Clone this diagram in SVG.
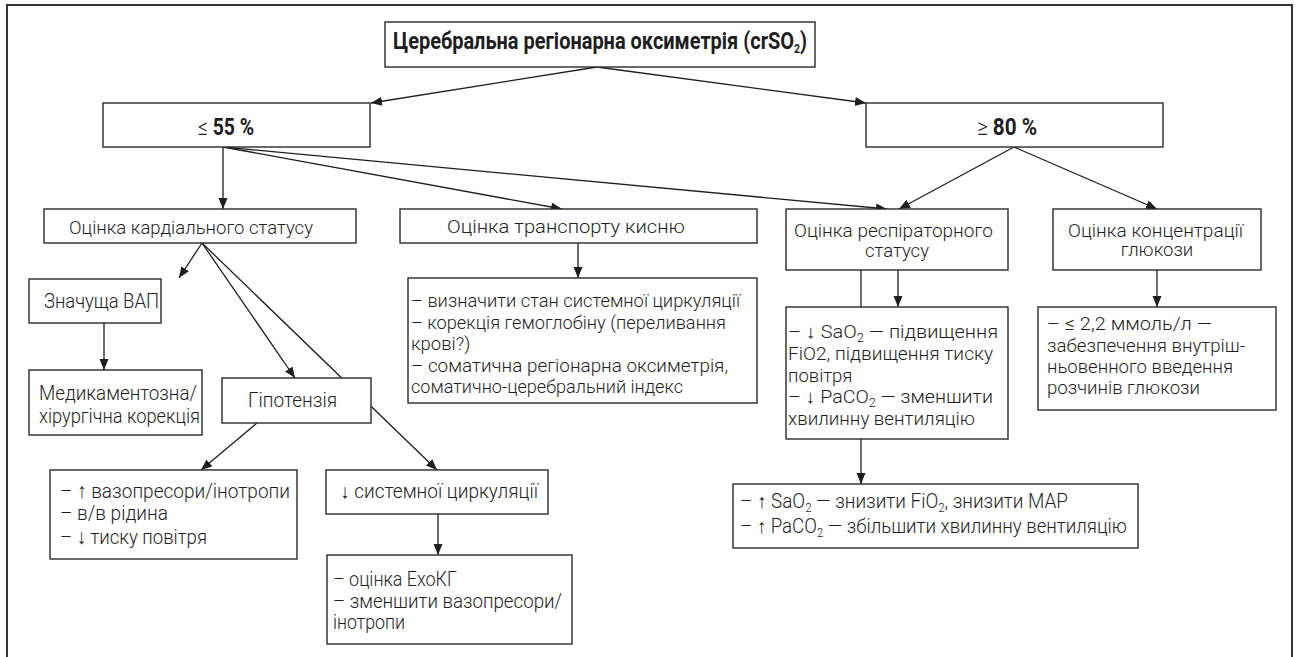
<svg xmlns="http://www.w3.org/2000/svg" width="1299" height="657" viewBox="0 0 1299 657">
<style>
.bx{fill:#fff;stroke:#2a2a2a;stroke-width:1.4}
.t{font-family:Roboto,"Liberation Sans",sans-serif;font-size:18.5px;font-weight:300;fill:#1e1e1e}
.c{text-anchor:middle}
.b{font-weight:bold}
.cn{font-size:23px}
.sub{font-size:12px}
.ln{stroke:#1e1e1e;stroke-width:1.3;fill:none}
.ar{stroke:#1e1e1e;stroke-width:1.3;fill:none;marker-end:url(#ah)}
</style>
<defs>
<marker id="ah" markerUnits="userSpaceOnUse" markerWidth="12" markerHeight="10" refX="11" refY="4.5" orient="auto">
<path d="M0,0 L11,4.5 L0,9 z" fill="#1e1e1e"/>
</marker>
</defs>
<rect width="1299" height="657" fill="#fff"/>
<path d="M7,660 V5 H1292 V660" fill="none" stroke="#333" stroke-width="2"/>

<g id="connectors">
<line class="ar" x1="597" y1="67" x2="371" y2="103"/>
<line class="ar" x1="597" y1="67" x2="866" y2="103"/>
<line class="ar" x1="223" y1="147" x2="223" y2="209"/>
<line class="ar" x1="223" y1="147" x2="562" y2="209"/>
<line class="ar" x1="223" y1="147" x2="887" y2="209"/>
<line class="ar" x1="1014" y1="147" x2="899" y2="209"/>
<line class="ar" x1="1014" y1="147" x2="1157" y2="209"/>
<line class="ar" x1="202" y1="243" x2="179" y2="278"/>
<line class="ar" x1="202" y1="243" x2="295" y2="378"/>
<line class="ar" x1="202" y1="243" x2="437" y2="470"/>
<line class="ar" x1="104" y1="323" x2="104" y2="370"/>
<line class="ar" x1="257" y1="423" x2="201" y2="470"/>
<line class="ar" x1="438" y1="514" x2="438" y2="555"/>
<line class="ar" x1="578" y1="243" x2="578" y2="278"/>
<line class="ar" x1="898" y1="270" x2="898" y2="307"/>
<line class="ar" x1="861" y1="270" x2="861" y2="484"/>
<line class="ar" x1="1157" y1="270" x2="1157" y2="307"/>
</g>

<g id="n_title">
<rect class="bx" x="385" y="22" width="430" height="45"/>
<text class="t b cn" x="393" y="49" textLength="414" lengthAdjust="spacingAndGlyphs">Церебральна регіонарна оксиметрія (crSO<tspan class="sub" baseline-shift="-4">2</tspan>)</text>
</g>
<g id="n_le55">
<rect class="bx" x="103" y="103" width="267" height="44"/>
<text class="t cn" x="198" y="135" textLength="56" lengthAdjust="spacingAndGlyphs">≤ <tspan class="b">55 %</tspan></text>
</g>
<g id="n_ge80">
<rect class="bx" x="866" y="103" width="297" height="44"/>
<text class="t cn" x="977" y="135" textLength="60" lengthAdjust="spacingAndGlyphs">≥ <tspan class="b">80 %</tspan></text>
</g>
<g id="n_card">
<rect class="bx" x="44" y="209" width="312" height="34"/>
<text class="t" x="69" y="234" textLength="244" lengthAdjust="spacingAndGlyphs">Оцінка кардіального статусу</text>
</g>
<g id="n_trans">
<rect class="bx" x="400" y="209" width="357" height="34"/>
<text class="t" x="447" y="233" textLength="238" lengthAdjust="spacingAndGlyphs">Оцінка транспорту кисню</text>
</g>
<g id="n_resp">
<rect class="bx" x="786" y="209" width="222" height="61"/>
<text class="t" x="794" y="237" textLength="199" lengthAdjust="spacingAndGlyphs">Оцінка респіраторного</text>
<text class="t c" x="897" y="257">статусу</text>
</g>
<g id="n_gluc">
<rect class="bx" x="1053" y="209" width="208" height="61"/>
<text class="t" x="1068" y="237" textLength="175" lengthAdjust="spacingAndGlyphs">Оцінка концентрації</text>
<text class="t c" x="1157" y="256">глюкози</text>
</g>
<g id="n_vap">
<rect class="bx" x="29" y="279" width="132" height="44"/>
<text class="t" x="44" y="308" textLength="115" lengthAdjust="spacingAndGlyphs" style="font-size:20px">Значуща ВАП</text>
</g>
<g id="n_med">
<rect class="bx" x="29" y="370" width="173" height="65"/>
<text class="t" x="39" y="400" textLength="158" lengthAdjust="spacingAndGlyphs" style="font-size:20px">Медикаментозна/</text>
<text class="t" x="39" y="423" textLength="161" lengthAdjust="spacingAndGlyphs" style="font-size:20px">хірургічна корекція</text>
</g>
<g id="n_hypo">
<rect class="bx" x="222" y="378" width="149" height="45"/>
<text class="t" x="248" y="407" textLength="89" lengthAdjust="spacingAndGlyphs" style="font-size:20px">Гіпотензія</text>
</g>
<g id="n_trans_c">
<rect class="bx" x="408" y="278" width="349" height="125"/>
<text class="t" x="411" y="307" textLength="329" lengthAdjust="spacingAndGlyphs">– визначити стан системної циркуляції</text>
<text class="t" x="411" y="328.5" textLength="315" lengthAdjust="spacingAndGlyphs">– корекція гемоглобіну (переливання</text>
<text class="t" x="411" y="350">крові?)</text>
<text class="t" x="411" y="371.5" textLength="317" lengthAdjust="spacingAndGlyphs">– соматична регіонарна оксиметрія,</text>
<text class="t" x="411" y="393" textLength="272" lengthAdjust="spacingAndGlyphs">соматично-церебральний індекс</text>
</g>
<g id="n_resp_c">
<rect class="bx" x="786" y="307" width="222" height="132"/>
<text class="t" x="788" y="338" textLength="210" lengthAdjust="spacingAndGlyphs">– ↓ SaO<tspan class="sub" baseline-shift="-4">2</tspan> — підвищення</text>
<text class="t" x="788" y="360" textLength="205" lengthAdjust="spacingAndGlyphs">FiO2, підвищення тиску</text>
<text class="t" x="788" y="382">повітря</text>
<text class="t" x="788" y="403" textLength="205" lengthAdjust="spacingAndGlyphs">– ↓ PaCO<tspan class="sub" baseline-shift="-4">2</tspan> — зменшити</text>
<text class="t" x="788" y="425" textLength="187" lengthAdjust="spacingAndGlyphs">хвилинну вентиляцію</text>
</g>
<g id="n_gluc_c">
<rect class="bx" x="1038" y="307" width="238" height="103"/>
<text class="t" x="1047" y="330" textLength="165" lengthAdjust="spacingAndGlyphs">– ≤ 2,2 ммоль/л —</text>
<text class="t" x="1047" y="352" textLength="198" lengthAdjust="spacingAndGlyphs">забезпечення внутріш-</text>
<text class="t" x="1047" y="373" textLength="186" lengthAdjust="spacingAndGlyphs">ньовенного введення</text>
<text class="t" x="1047" y="394" textLength="153" lengthAdjust="spacingAndGlyphs">розчинів глюкози</text>
</g>
<g id="n_vaso">
<rect class="bx" x="50" y="470" width="247" height="89"/>
<text class="t" x="60" y="498" textLength="230" lengthAdjust="spacingAndGlyphs" style="font-size:21px">– ↑ вазопресори/інотропи</text>
<text class="t" x="60" y="520" textLength="108" lengthAdjust="spacingAndGlyphs" style="font-size:21px">– в/в рідина</text>
<text class="t" x="60" y="544" textLength="147" lengthAdjust="spacingAndGlyphs" style="font-size:21px">– ↓ тиску повітря</text>
</g>
<g id="n_sys">
<rect class="bx" x="326" y="470" width="222" height="44"/>
<text class="t" x="340" y="498" textLength="198" lengthAdjust="spacingAndGlyphs" style="font-size:20px">↓ системної циркуляції</text>
</g>
<g id="n_echo">
<rect class="bx" x="327" y="555" width="245" height="89"/>
<text class="t" x="333" y="586" textLength="124" lengthAdjust="spacingAndGlyphs" style="font-size:20px">– оцінка ЕхоКГ</text>
<text class="t" x="333" y="608" textLength="229" lengthAdjust="spacingAndGlyphs" style="font-size:20px">– зменшити вазопресори/</text>
<text class="t" x="333" y="629" textLength="72" lengthAdjust="spacingAndGlyphs" style="font-size:20px">інотропи</text>
</g>
<g id="n_bottom">
<rect class="bx" x="733" y="484" width="405" height="64"/>
<text class="t" x="740" y="508" textLength="328" lengthAdjust="spacingAndGlyphs" style="font-size:20px">– ↑ SaO<tspan class="sub" baseline-shift="-4">2</tspan> — знизити FiO<tspan class="sub" baseline-shift="-4">2</tspan>, знизити MAP</text>
<text class="t" x="740" y="533" textLength="387" lengthAdjust="spacingAndGlyphs" style="font-size:20px">– ↑ PaCO<tspan class="sub" baseline-shift="-4">2</tspan> — збільшити хвилинну вентиляцію</text>
</g>
</svg>
